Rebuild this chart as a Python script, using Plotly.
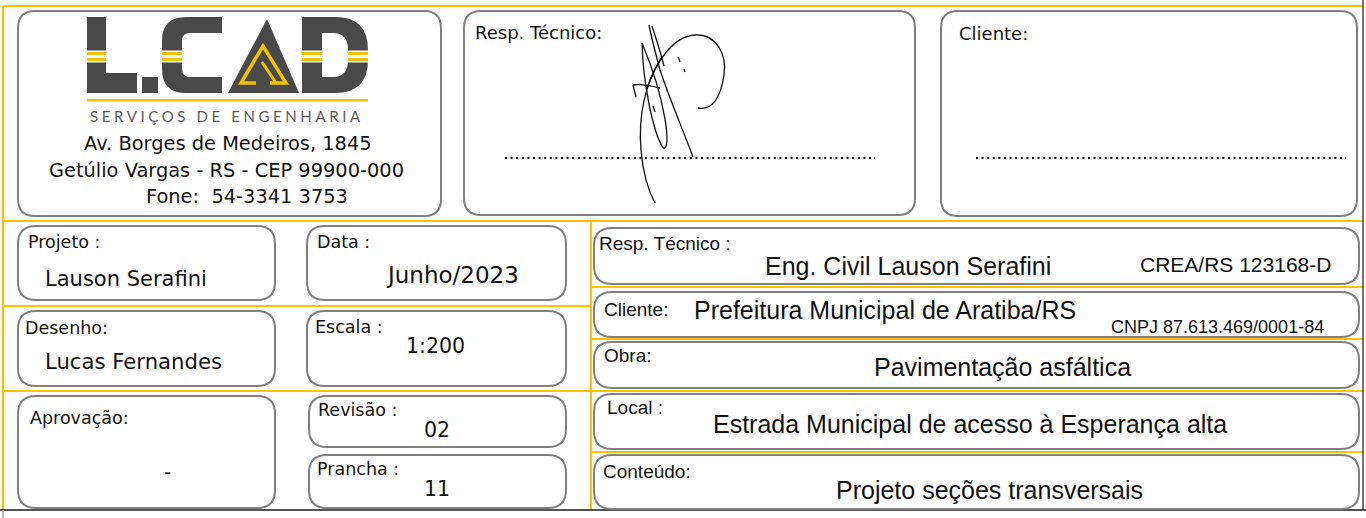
import plotly.graph_objects as go

W, H = 1366, 518

# ---------------- content ----------------
company_lines = ["Av. Borges de Medeiros, 1845",
                 "Getúlio Vargas - RS - CEP 99900-000",
                 "Fone:  54-3341 3753"]
company_tagline = "SERVIÇOS DE ENGENHARIA"
signature_labels = ["Resp. Técnico:", "Cliente:"]
left_labels = ["Projeto :", "Data :", "Desenho:", "Escala :", "Aprovação:", "Revisão :", "Prancha :"]
left_values = ["Lauson Serafini", "Junho/2023", "Lucas Fernandes", "1:200", "-", "02", "11"]
right_labels = ["Resp. Técnico :", "Cliente:", "Obra:", "Local :", "Conteúdo:"]
right_values = ["Eng. Civil Lauson Serafini", "Prefeitura Municipal de Aratiba/RS",
                "Pavimentação asfáltica", "Estrada Municipal de acesso à Esperança alta",
                "Projeto seções transversais"]
right_notes = ["CREA/RS 123168-D", "CNPJ 87.613.469/0001-84"]

# ---------------- layout geometry ----------------
ORANGE = "#FFC000"
BOXC = "#808080"
DARK = "#494949"
GOLD = "#F2C200"
FONT_L = "DejaVu Sans"
FONT_R = "Liberation Sans"

def rrect(x0, y0, x1, y1, r):
    return (f"M {x0+r} {y0} L {x1-r} {y0} Q {x1} {y0} {x1} {y0+r} "
            f"L {x1} {y1-r} Q {x1} {y1} {x1-r} {y1} L {x0+r} {y1} "
            f"Q {x0} {y1} {x0} {y1-r} L {x0} {y0+r} Q {x0} {y0} {x0+r} {y0} Z")

shapes = []

def line(x0, y0, x1, y1, color, width, dash=None):
    d = dict(type="line", x0=x0, y0=y0, x1=x1, y1=y1, xref="x", yref="y",
             line=dict(color=color, width=width))
    if dash:
        d["line"]["dash"] = dash
    shapes.append(d)

def path(p, fill=None, color=None, width=0):
    d = dict(type="path", path=p, xref="x", yref="y",
             line=dict(color=color or "rgba(0,0,0,0)", width=width))
    if fill:
        d["fillcolor"] = fill
    shapes.append(d)

# orange frame lines
line(3, 6, 1363, 6, ORANGE, 2.2)
line(3, 6, 3, 510, ORANGE, 2.2)
line(3, 221, 1363, 221, ORANGE, 2.2)
line(591, 221, 591, 510, ORANGE, 2.2)
line(3, 306, 591, 306, ORANGE, 2.2)
line(3, 391, 1363, 391, ORANGE, 2.2)
for yy in [287, 339, 452]:
    line(591, yy, 1363, yy, ORANGE, 2.2)
# dark outer lines
line(1363, 0, 1363, 510, "#3a3a3a", 1.4)
line(0, 510, 1366, 510, "#1a1a1a", 1.6)
line(3, 510, 3, 518, "#9a9a9a", 1.4)

# boxes
top_boxes = [(18, 11, 441, 216), (464, 11, 915, 215), (941, 11, 1357, 216)]
left_boxes = [(18, 226, 275, 300), (307, 226, 566, 300), (18, 311, 275, 386),
              (307, 311, 566, 386), (18, 396, 275, 508), (309, 396, 566, 447),
              (309, 455, 566, 508)]
right_boxes = [(594, 228, 1359, 284), (594, 292, 1359, 337), (594, 342, 1359, 388),
               (594, 394, 1359, 449), (594, 455, 1359, 509)]
for b in top_boxes:
    path(rrect(*b, 17), fill="white", color=BOXC, width=2)
for b in left_boxes:
    path(rrect(*b, 18), fill="white", color=BOXC, width=2)
for b in right_boxes:
    path(rrect(*b, 18), fill="white", color=BOXC, width=2)

# signature dotted lines
line(505, 158, 875, 158, "#111", 2.2, dash="2px,3.6px")
line(976, 158, 1346, 158, "#111", 2.2, dash="2px,3.6px")

# ---------------- logo ----------------
path("M 87 17 L 106 17 L 106 73 L 137 73 L 137 93 L 87 93 Z", fill=DARK)
path("M 142 77 L 158 77 L 158 93 L 142 93 Z", fill=DARK)
path("M 222 17 L 186 17 Q 162 17 162 41 L 162 69 Q 162 93 186 93 L 222 93 L 222 77 "
     "L 190 77 Q 182 77 182 69 L 182 41 Q 182 33 190 33 L 222 33 Z", fill=DARK)
path("M 267 19 L 299 93 L 228 93 Z", fill=DARK)
path("M 256 83 L 241 83 L 263 46 L 286 83 L 270 83", color=GOLD, width=3.5)
path("M 262 62 L 276 83", color=GOLD, width=3)
path("M 302 17 L 335 17 Q 368 17 368 50 L 368 60 Q 368 93 335 93 L 302 93 Z", fill=DARK)
path("M 322 33 L 333 33 Q 348 33 348 50 L 348 60 Q 348 77 333 77 L 322 77 Z", fill="white")
for (xa, xb) in [(87, 106), (162, 182), (302, 322), (348, 368)]:
    path(f"M {xa} 50.5 L {xb} 50.5 L {xb} 62.5 L {xa} 62.5 Z", fill="white")
    path(f"M {xa} 52 L {xb} 52 L {xb} 55 L {xa} 55 Z", fill=GOLD)
    path(f"M {xa} 58 L {xb} 58 L {xb} 61 L {xa} 61 Z", fill=GOLD)
path("M 87 99 L 368 99 L 368 101.5 L 87 101.5 Z", fill=GOLD)

# ---------------- signature ----------------
sig = [
    "M 649 25 C 652 40 656 55 660 70 C 670 100 683 130 693 157",
    "M 652 26 C 656 38 660 50 664 66",
    "M 642 43 C 643 80 652 130 663 148 C 672 152 666 100 642 43",
    "M 661 58 C 645 85 638 115 641 150 C 643 175 648 190 655 203",
    "M 633 85 C 640 84 652 86 660 88",
    "M 633 85 L 636 97",
    "M 647 88 C 655 65 672 36 695 35 C 717 34 727 55 724 75 C 721 97 712 111 698 108",
    "M 678 57 L 680 62",
    "M 684 69 L 685 72",
    "M 653 106 L 655 112",
]
for s in sig:
    path(s, color="#111", width=1.3)

# ---------------- text ----------------
ann = []
DX = 3  # annotation box padding offset

def txt(x, y, s, size, family=FONT_L, anchor="left", color="#111"):
    if anchor == "left":
        x -= DX
    elif anchor == "right":
        x += DX
    ann.append(dict(x=x, y=y, xref="x", yref="y", text=s, showarrow=False,
                    xanchor=anchor, yanchor="middle",
                    font=dict(family=family, size=size, color=color)))

txt(227, 116, f'<span style="letter-spacing:3.6px">{company_tagline}</span>', 15,
    family="Lato", anchor="center", color="#5c5c5c")
for (x, y), s in zip([(85, 143), (50, 170), (147, 196)], company_lines):
    txt(x, y, s, 19.4)
for (x, y), s in zip([(476, 32), (960, 33)], signature_labels):
    txt(x, y, s, 18)

label_pos = [(29, 242), (318, 242), (26, 328), (316, 327), (31, 418), (319, 410), (318, 469)]
for (x, y), s in zip(label_pos, left_labels):
    txt(x, y, s, 17.5)
value_pos = [(46, 279, "left", 21), (387, 275, "left", 23), (46, 361, "left", 21.2),
             (407, 346, "left", 20.5), (167, 472, "center", 20), (425, 430, "left", 20.5),
             (425, 489, "left", 20.5)]
for (x, y, a, fs), s in zip(value_pos, left_values):
    txt(x, y, s, fs, anchor=a)

rlabel_pos = [(600, 243), (605, 309), (605, 355), (608, 407), (604, 471)]
for (x, y), s in zip(rlabel_pos, right_labels):
    txt(x, y, s, 19, family=FONT_R)
rvalue_pos = [(908, 266, "center"), (695, 310, "left"), (1002, 367, "center"),
              (970, 424, "center"), (989, 490, "center")]
for (x, y, a), s in zip(rvalue_pos, right_values):
    txt(x, y, s, 25, family=FONT_R, anchor=a)
for (x, y, fs), s in zip([(1330, 264, 21), (1323, 327, 18)], right_notes):
    txt(x, y, s, fs, family=FONT_R, anchor="right")

fig = go.Figure()
fig.update_layout(
    width=W, height=H, autosize=False,
    margin=dict(l=0, r=0, t=0, b=0, pad=0),
    paper_bgcolor="white", plot_bgcolor="white",
    xaxis=dict(range=[0, W], visible=False, fixedrange=True),
    yaxis=dict(range=[H, 0], visible=False, fixedrange=True),
    shapes=shapes, annotations=ann, showlegend=False,
)
fig.write_html("out.html", config={"displayModeBar": False},
               post_script="document.body.style.margin='0';document.body.style.overflow='hidden';")
